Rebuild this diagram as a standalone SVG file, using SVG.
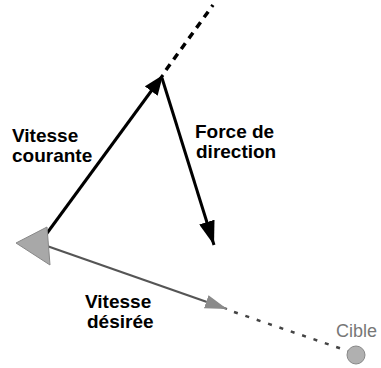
<svg xmlns="http://www.w3.org/2000/svg" width="381" height="368" viewBox="0 0 381 368">
<style>
.lbl{font-family:"Liberation Sans",Arial,sans-serif;font-weight:bold;font-size:19px;fill:#000}
.cible{font-family:"Liberation Sans",Arial,sans-serif;font-size:18px;fill:#777}
</style>
<defs>
<marker id="bh" viewBox="0 0 20 16" refX="20" refY="8" markerWidth="20" markerHeight="16" markerUnits="userSpaceOnUse" orient="auto">
<path d="M0,0 L20,8 L0,16 z" fill="#000"/>
</marker>
<marker id="fh" viewBox="0 0 24 16" refX="24" refY="8" markerWidth="24" markerHeight="16" markerUnits="userSpaceOnUse" orient="auto">
<path d="M0,0 L24,8 L0,16 z" fill="#000"/>
</marker>
<marker id="gh" viewBox="0 0 22 14" refX="22" refY="7" markerWidth="22" markerHeight="14" markerUnits="userSpaceOnUse" orient="auto">
<path d="M0,0 L22,7 L0,14 z" fill="#8a8a8a"/>
</marker>
</defs>
<rect width="381" height="368" fill="#fff"/>
<g id="connectors">
<line x1="42" y1="240" x2="163" y2="75" stroke="#000" stroke-width="3" marker-end="url(#bh)"/>
<line x1="166" y1="70" x2="213" y2="5" stroke="#000" stroke-width="3.5" stroke-dasharray="7,6"/>
<line x1="162" y1="78" x2="214" y2="245" stroke="#000" stroke-width="3" marker-end="url(#fh)"/>
<line x1="47" y1="246" x2="227" y2="309" stroke="#555" stroke-width="2.2" marker-end="url(#gh)"/>
<line x1="234" y1="312" x2="348" y2="351" stroke="#444" stroke-width="2.5" stroke-dasharray="4,8"/>
</g>
<g id="agent">
<path d="M16,243 L47,227 L50,265 z" fill="#a8a8a8" stroke="#888" stroke-width="1"/>
</g>
<g id="cible">
<circle cx="356" cy="355" r="9" fill="#b0b0b0" stroke="#888" stroke-width="1"/>
<text class="cible" x="336" y="337">Cible</text>
</g>
<g id="label-courante">
<text class="lbl" x="12" y="142">Vitesse</text>
<text class="lbl" x="12" y="162">courante</text>
</g>
<g id="label-force">
<text class="lbl" x="195" y="138">Force de</text>
<text class="lbl" x="196" y="158">direction</text>
</g>
<g id="label-desiree">
<text class="lbl" x="85" y="308">Vitesse</text>
<text class="lbl" x="87" y="328">désirée</text>
</g>
</svg>
